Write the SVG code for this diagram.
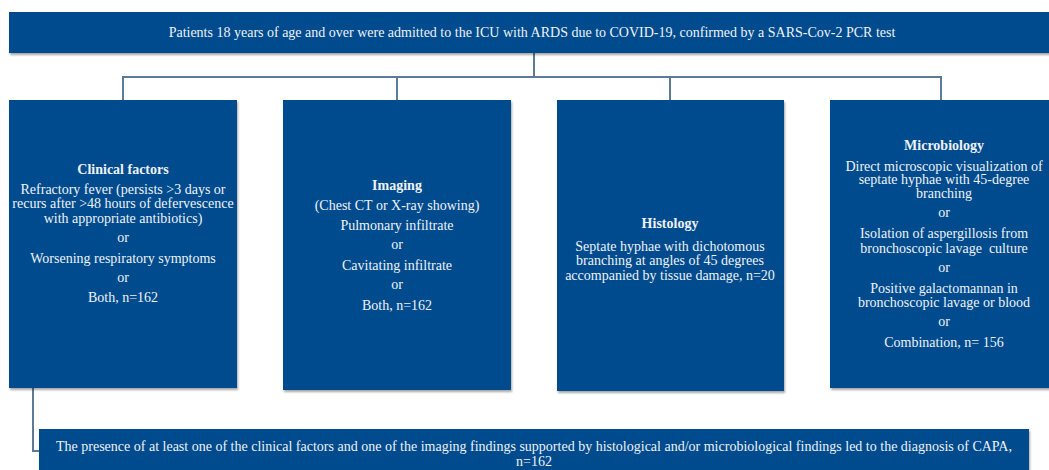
<svg xmlns="http://www.w3.org/2000/svg" width="1049" height="470" viewBox="0 0 1049 470">
<defs>
<filter id="sh" x="-5%" y="-5%" width="110%" height="115%">
<feDropShadow dx="1" dy="2" stdDeviation="1.2" flood-color="#000" flood-opacity="0.35"/>
</filter>
<style>
.box{fill:#034b8d;filter:url(#sh)}
.t{font-family:"Liberation Serif","Times New Roman",serif;font-size:14px;fill:#eef2f7;text-anchor:middle}
.b{font-weight:bold}
.c{fill:none;stroke:#5d7a99;stroke-width:2}
</style>
</defs>
<rect width="1049" height="470" fill="#ffffff"/>
<g id="connectors">
<path class="c" d="M534 53 V77 M123 100 V77 H941 V100 M397 77 V100 M670 77 V100"/>
<path class="c" d="M33 388 V451 H40"/>
</g>
<g id="top">
<rect class="box" x="9" y="12" width="1046" height="41"/>
<text class="t" x="532" y="37">Patients 18 years of age and over were admitted to the ICU with ARDS due to COVID-19, confirmed by a SARS-Cov-2 PCR test</text>
</g>
<g id="clinical">
<rect class="box" x="9" y="100" width="228" height="288"/>
<text class="t b" x="123" y="174">Clinical factors</text>
<text class="t" x="123" y="194">Refractory fever (persists &gt;3 days or</text>
<text class="t" x="123" y="208">recurs after &gt;48 hours of defervescence</text>
<text class="t" x="123" y="223">with appropriate antibiotics)</text>
<text class="t" x="123" y="242">or</text>
<text class="t" x="123" y="263">Worsening respiratory symptoms</text>
<text class="t" x="123" y="282">or</text>
<text class="t" x="123" y="302">Both, n=162</text>
</g>
<g id="imaging">
<rect class="box" x="283" y="100" width="228" height="290"/>
<text class="t b" x="397" y="190">Imaging</text>
<text class="t" x="397" y="210">(Chest CT or X-ray showing)</text>
<text class="t" x="397" y="230">Pulmonary infiltrate</text>
<text class="t" x="397" y="249">or</text>
<text class="t" x="397" y="270">Cavitating infiltrate</text>
<text class="t" x="397" y="289">or</text>
<text class="t" x="397" y="310">Both, n=162</text>
</g>
<g id="histology">
<rect class="box" x="557" y="100" width="227" height="291"/>
<text class="t b" x="670" y="228">Histology</text>
<text class="t" x="670" y="251">Septate hyphae with dichotomous</text>
<text class="t" x="670" y="265">branching at angles of 45 degrees</text>
<text class="t" x="670" y="280">accompanied by tissue damage, n=20</text>
</g>
<g id="microbiology">
<rect class="box" x="830" y="100" width="227" height="288"/>
<text class="t b" x="944" y="150">Microbiology</text>
<text class="t" x="944" y="171">Direct microscopic visualization of</text>
<text class="t" x="944" y="184">septate hyphae with 45-degree</text>
<text class="t" x="944" y="198">branching</text>
<text class="t" x="944" y="217">or</text>
<text class="t" x="944" y="238">Isolation of aspergillosis from</text>
<text class="t" x="944" y="253" xml:space="preserve">bronchoscopic lavage  culture</text>
<text class="t" x="944" y="272">or</text>
<text class="t" x="944" y="293">Positive galactomannan in</text>
<text class="t" x="944" y="307">bronchoscopic lavage or blood</text>
<text class="t" x="944" y="326">or</text>
<text class="t" x="944" y="347">Combination, n= 156</text>
</g>
<g id="diagnosis">
<rect class="box" x="39" y="429" width="990" height="45"/>
<text class="t" x="534" y="451">The presence of at least one of the clinical factors and one of the imaging findings supported by histological and/or microbiological findings led to the diagnosis of CAPA,</text>
<text class="t" x="534" y="466">n=162</text>
</g>
</svg>
